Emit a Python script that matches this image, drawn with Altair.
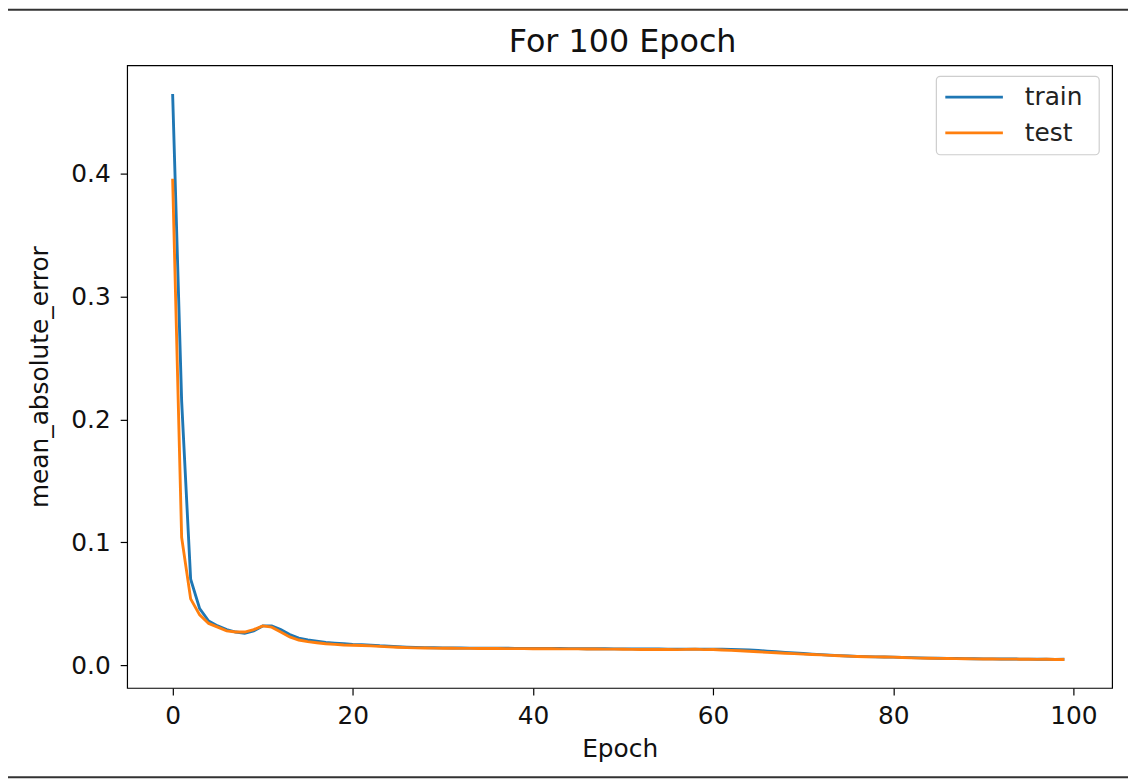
import altair as alt
import pandas as pd

epochs = list(range(100))

train = [
    0.465, 0.215, 0.070, 0.046, 0.036, 0.032, 0.029, 0.027, 0.026, 0.028,
    0.032, 0.032, 0.029, 0.025, 0.022, 0.0205, 0.0195, 0.0185, 0.018, 0.0175,
    0.017, 0.0168, 0.0164, 0.0158, 0.0154, 0.0150, 0.0147, 0.0145, 0.0143, 0.0142,
    0.0141, 0.0140, 0.0140, 0.0139, 0.0139, 0.0138, 0.0138, 0.0138, 0.0137, 0.0137,
    0.0137, 0.0136, 0.0136, 0.0136, 0.0135, 0.0135, 0.0134, 0.0134, 0.0134, 0.0133,
    0.0133, 0.0133, 0.0132, 0.0132, 0.0132, 0.0131, 0.0131, 0.0131, 0.0131, 0.0131,
    0.0131, 0.0130, 0.0129, 0.0127, 0.0124, 0.0120, 0.0115, 0.0110, 0.0105, 0.0100,
    0.0095, 0.0090, 0.0086, 0.0082, 0.0078, 0.0075, 0.0072, 0.0070, 0.0068, 0.0067,
    0.0066, 0.0064, 0.0062, 0.0060, 0.0058, 0.0057, 0.0056, 0.0055, 0.0054, 0.0053,
    0.0052, 0.0052, 0.0051, 0.0051, 0.0050, 0.0050, 0.0049, 0.0049, 0.0048, 0.0048,
]

test = [
    0.396, 0.104, 0.054, 0.041, 0.034, 0.031, 0.028, 0.027, 0.027, 0.029,
    0.032, 0.031, 0.027, 0.023, 0.0205, 0.0192, 0.0183, 0.0175, 0.017, 0.0165,
    0.0162, 0.0160, 0.0157, 0.0153, 0.0149, 0.0146, 0.0143, 0.0141, 0.0140, 0.0139,
    0.0138, 0.0138, 0.0137, 0.0137, 0.0136, 0.0136, 0.0136, 0.0135, 0.0135, 0.0135,
    0.0134, 0.0134, 0.0134, 0.0133, 0.0133, 0.0133, 0.0132, 0.0132, 0.0131, 0.0131,
    0.0130, 0.0129, 0.0128, 0.0128, 0.0129, 0.0128, 0.0127, 0.0129, 0.0131, 0.0127,
    0.0128, 0.0124, 0.0121, 0.0118, 0.0114, 0.0110, 0.0105, 0.0101, 0.0097, 0.0094,
    0.0090, 0.0087, 0.0084, 0.0080, 0.0077, 0.0074, 0.0071, 0.0069, 0.0068, 0.0067,
    0.0066, 0.0063, 0.0060, 0.0058, 0.0057, 0.0056, 0.0055, 0.0054, 0.0053, 0.0052,
    0.0051, 0.0051, 0.0050, 0.0050, 0.0049, 0.0049, 0.0048, 0.0048, 0.0047, 0.0047,
]

series_names = ["train", "test"]
series_colors = ["#1f77b4", "#ff7f0e"]
x_ticks = [0, 20, 40, 60, 80, 100]
y_ticks = [0.0, 0.1, 0.2, 0.3, 0.4]
title_text = "For 100 Epoch"

df = pd.concat([
    pd.DataFrame({"Epoch": epochs, "value": train, "series": series_names[0]}),
    pd.DataFrame({"Epoch": epochs, "value": test, "series": series_names[1]}),
])

FONT = "DejaVu Sans"
W, H = 992, 627
FS = 25

lines = alt.Chart(df).mark_line(strokeWidth=2.9, clip=True).encode(
    x=alt.X("Epoch:Q",
            scale=alt.Scale(domain=[-5.05, 104.3], nice=False, zero=False),
            axis=alt.Axis(values=x_ticks, title="Epoch", format="d")),
    y=alt.Y("value:Q",
            scale=alt.Scale(domain=[-0.0185, 0.4883], nice=False, zero=False),
            axis=alt.Axis(values=y_ticks, title="mean_absolute_error", format=".1f")),
    color=alt.Color("series:N",
                    scale=alt.Scale(domain=series_names, range=series_colors),
                    legend=None),
    detail="series:N",
)

one = pd.DataFrame({"a": [0]})

# chart title as a text mark centred over the plot area
title_mark = alt.Chart(one).mark_text(
    text=title_text, font=FONT, fontSize=32, color="#111",
    align="center", baseline="middle"
).encode(x=alt.value(W / 2 + 3), y=alt.value(-23))

# legend box, symbols and labels (matplotlib-style, upper right)
legend_box = alt.Chart(one).mark_rect(
    fill="white", stroke="#cccccc", strokeWidth=1.2, cornerRadius=4, opacity=0.95
).encode(x=alt.value(815), x2=alt.value(979), y=alt.value(11), y2=alt.value(90))

legend_parts = [legend_box]
for i, (name, col) in enumerate(zip(series_names, series_colors)):
    yy = 32 + i * 36
    legend_parts.append(
        alt.Chart(one).mark_rule(color=col, strokeWidth=2.9).encode(
            x=alt.value(824), x2=alt.value(882), y=alt.value(yy)))
    legend_parts.append(
        alt.Chart(one).mark_text(text=name, font=FONT, fontSize=FS, color="#222",
                                 align="left", baseline="middle").encode(
            x=alt.value(904), y=alt.value(yy)))

top_rule = alt.Chart(one).mark_rule(color="#333", strokeWidth=2).encode(
    x=alt.value(-125), x2=alt.value(W + 20), y=alt.value(-56))
bottom_rule = alt.Chart(one).mark_rule(color="#333", strokeWidth=2).encode(
    x=alt.value(-125), x2=alt.value(W + 20), y=alt.value(717))

chart = alt.layer(lines, title_mark, *legend_parts, top_rule, bottom_rule).properties(
    width=W, height=H,
    autosize=alt.AutoSizeParams(type="none"),
    padding={"left": 120, "top": 55, "right": 16, "bottom": 100},
).configure_view(
    stroke="#000", strokeWidth=1.2
).configure_axis(
    grid=False, domain=False, tickColor="#000", tickSize=7, tickWidth=1.2,
    labelFont=FONT, labelFontSize=FS, labelColor="#111",
    titleFont=FONT, titleFontSize=FS, titleFontWeight="normal", titleColor="#111",
).configure_axisY(labelPadding=10, titlePadding=18).configure_axisX(labelPadding=9, titlePadding=8)

chart.save("out.html", embed_options={"renderer": "svg", "actions": False})
